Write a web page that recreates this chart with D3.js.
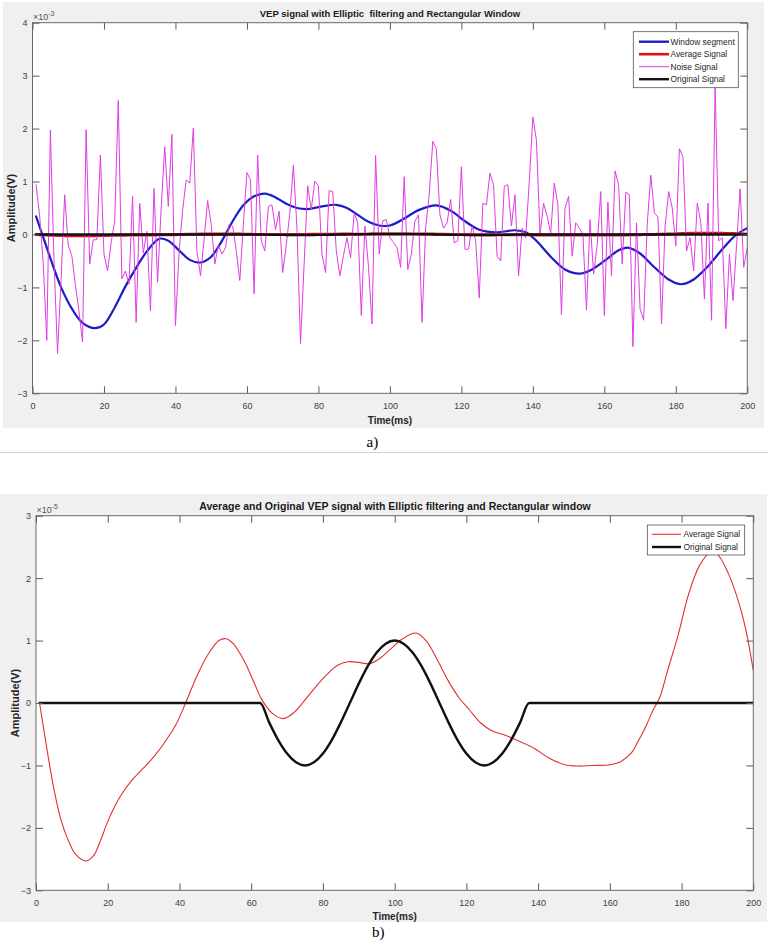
<!DOCTYPE html>
<html lang="en">
<head>
<meta charset="UTF-8">
<title>VEP signal with Elliptic filtering and Rectangular Window</title>
<script src="https://d3js.org/d3.v7.min.js"></script>
<style>
  body{margin:0;background:#fff;}
  svg{display:block;font-family:"Liberation Sans",Arial,Helvetica,sans-serif;}
  .tick text{font-size:9px;fill:#404040;}
  .tick line{stroke:#5a5a5a;}
  .plotbg{fill:#fff;}
  .frame{fill:none;stroke:#6a6a6a;stroke-width:1;}
  .title{font-weight:bold;fill:#1a1a1a;text-anchor:middle;white-space:pre;}
  .axlabel{font-weight:bold;fill:#262626;text-anchor:middle;}
  .expo{font-size:9px;fill:#555;}
  .legend rect{fill:#fff;stroke:#555;stroke-width:0.8;}
  .legend text{font-size:8.4px;fill:#262626;}
  .caption{font-family:"Liberation Serif","Times New Roman",serif;font-size:15px;fill:#000;}
  path.sig{fill:none;stroke-linejoin:round;stroke-linecap:round;}
</style>
</head>
<body>
<script>
// ---- data ----
var xTicks = [0, 20, 40, 60, 80, 100, 120, 140, 160, 180, 200];
var yTicksA = [-3, -2, -1, 0, 1, 2, 3, 4];      // x 1e-3
var yTicksB = [-3, -2, -1, 0, 1, 2, 3];         // x 1e-5

// noise signal, one sample per ms (1..200), units 1e-3 V
var noiseSignal = [
   0.94, 0.35,-0.55,-2.00, 1.97,-0.45,-2.25,-0.85, 0.75,-0.20,
  -0.40,-0.95,-1.45,-2.03, 1.98,-0.56,-0.10,-0.10, 1.50,-0.37,
  -0.69,-0.15, 0.25, 2.53,-0.84,-0.69,-0.94, 0.72,-1.66, 0.59,
  -0.35, 0.06,-1.44, 0.87,-0.90, 0.50, 1.66, 0.53, 1.89,-1.72,
  -0.35, 0.45, 1.03, 0.97, 2.01,-0.30,-0.78,-0.10, 0.64, 0.19,
  -0.56,-0.20,-0.37,-0.25, 0.19, 0.16,-0.30,-0.87, 0.20, 1.17,
   1.03,-1.12, 1.50,-0.12,-0.31, 0.53, 0.56, 0.09, 0.44,-0.72,
  -0.20, 0.40, 1.31, 0.12,-2.06,-0.56, 0.92, 0.47, 1.01, 0.92,
  -0.37,-0.72, 0.83, 0.81,-0.31,-0.78,-0.40,-0.06,-0.44, 0.41,
   0.22,-1.53, 0.16,-0.60,-1.69, 1.49,-0.37, 0.26, 0.28,-0.06,
  -0.15,-0.25,-0.62, 1.09,-0.66,-0.37, 0.25, 0.37,-1.66, 0.12,
   0.75, 1.76, 1.62, 0.37, 0.12, 0.22, 0.66,-0.16,-0.12, 1.28,
  -0.28,-0.28, 0.16,-0.12,-1.20, 0.59, 0.56, 1.16, 0.94,-0.41,
  -0.50, 0.91, 0.94, 0.16, 0.75,-0.78, 0.12,-0.06, 1.00, 2.22,
   1.78, 0.00, 0.59, 0.34, 0.03, 0.97, 0.56,-1.51, 0.50, 0.72,
  -0.41, 0.22, 0.12, 0.00,-1.43, 0.28,-0.75,-0.19, 0.81,-1.53,
   0.61,-0.78, 1.20, 0.94,-0.56, 0.80, 0.75,-2.12, 0.22,-1.41,
  -1.62, 0.19, 1.12, 0.41, 0.33,-1.69, 0.16, 0.81, 0.50,-0.22,
   1.62, 1.47,-0.31,-0.06,-0.69, 0.59, 0.22,-1.22, 0.59,-1.62,
   2.80,-0.12,-0.06,-1.78,-0.37,-1.25,-0.20, 0.86,-0.62,-0.25
];
var noiseTime = noiseSignal.map(function(v, i){ return i + 1; });

// window segment (blue), units 1e-3 V
var windowTime = [1,3,5,8,11,14,17.5,20,23,26, 29,32,35.5,38,41,44,47,50,53,56,
  59,62,65,68,71,74,77,81,85,88, 91,94,97,100,104,108,113,117,121,125,
  130,135,138,141,145,149,153,156,160,164, 166.5,170,174,178,181.5,185,189,193,197,200];
var windowSegment = [0.34,-0.05,-0.45,-1.0,-1.4,-1.67,-1.77,-1.70,-1.38,-0.98,
  -0.63,-0.32,-0.08,-0.12,-0.3,-0.48,-0.53,-0.42,-0.12,0.25,
  0.55,0.72,0.77,0.7,0.58,0.5,0.48,0.53,0.56,0.5,
  0.37,0.24,0.17,0.17,0.3,0.46,0.55,0.45,0.25,0.09,
  0.04,0.08,0.04,-0.12,-0.42,-0.66,-0.74,-0.68,-0.5,-0.3,
  -0.25,-0.36,-0.62,-0.85,-0.94,-0.85,-0.6,-0.28,0.0,0.12];

// average signal (red), units 1e-5 V
var avgTime = [1,3,5,7,9,11,14,16,18,20, 22,24,27,30,33,36,39,42,45,48,
  51,53,55,58,61,63,66,69,72,75, 78,81,84,87,90,93,96,99,102,106,
  109,112,115,118,121,124,127,131,135,139, 143,147,151,155,160,163,166,168,170,172,
  174,176,179,182,185,188,190,193,196,198,200];
var averageSignal = [0,-0.72,-1.38,-1.88,-2.2,-2.42,-2.53,-2.45,-2.2,-1.9,
  -1.65,-1.45,-1.22,-1.04,-0.85,-0.62,-0.35,0.04,0.45,0.78,
  1.0,1.03,0.95,0.68,0.3,0.05,-0.17,-0.25,-0.15,0.05,
  0.26,0.45,0.6,0.66,0.65,0.63,0.72,0.87,1.02,1.12,
  0.98,0.68,0.35,0.08,-0.12,-0.32,-0.44,-0.52,-0.62,-0.73,
  -0.88,-0.98,-1.01,-1.0,-0.99,-0.94,-0.8,-0.6,-0.38,-0.12,
  0.1,0.5,1.08,1.75,2.2,2.41,2.38,2.08,1.6,1.15,0.52];

// original signal (black), units 1e-5 V
var origTime = [1,57.5,60,62.5,65,67.5,70,72.5,75,77.5,80,82.5,85,87.5,90,92.5,95,97.5,100,
  102.5,105,107.5,110,112.5,115,117.5,120,122.5,125,127.5,130,132.5,135,137.5,140,200];
var originalSignal = [0,0,0,0,-0.31,-0.59,-0.81,-0.95,-1,-0.95,-0.81,-0.59,-0.31,0,0.31,0.59,0.81,0.95,1,
  0.95,0.81,0.59,0.31,0,-0.31,-0.59,-0.81,-0.95,-1,-0.95,-0.81,-0.59,-0.31,0,0,0];

// ---- drawing ----
var svg = d3.select("body").append("svg").attr("width", 768).attr("height", 943);

function drawPanel(p) {
  var g = svg.append("g");
  g.append("rect").attr("x", p.bg[0]).attr("y", p.bg[1]).attr("width", p.bg[2]).attr("height", p.bg[3])
    .attr("fill", "#f0f0f0");

  var x = d3.scaleLinear().domain([0, 200]).range([p.left, p.right]);
  var y = d3.scaleLinear().domain([p.yTicks[0], p.yTicks[p.yTicks.length - 1]]).range([p.bottom, p.top]);

  g.append("rect").attr("class", "plotbg").attr("x", p.left).attr("y", p.top)
    .attr("width", p.right - p.left).attr("height", p.bottom - p.top);

  var clipId = "clip" + p.id;
  g.append("clipPath").attr("id", clipId).append("rect")
    .attr("x", p.left).attr("y", p.top).attr("width", p.right - p.left).attr("height", p.bottom - p.top);

  var lines = g.append("g").attr("clip-path", "url(#" + clipId + ")");
  p.series.forEach(function(s) {
    var pts = s.t.map(function(t, i){ return [t, s.v[i] * s.k]; });
    var line = d3.line().x(function(d){ return x(d[0]); }).y(function(d){ return y(d[1]); }).curve(s.curve);
    lines.append("path").attr("class", "sig").datum(pts).attr("d", line)
      .attr("stroke", s.color).attr("stroke-width", s.w);
  });

  // axes: ticks inward on all four sides
  var fmt = d3.format("d");
  var bottom = g.append("g").attr("transform", "translate(0," + p.bottom + ")")
    .call(d3.axisBottom(x).tickValues(xTicks).tickFormat(fmt).tickSizeInner(-7).tickSizeOuter(0).tickPadding(9));
  var top = g.append("g").attr("transform", "translate(0," + p.top + ")")
    .call(d3.axisTop(x).tickValues(xTicks).tickSizeInner(-7).tickSizeOuter(0).tickFormat(""));
  var left = g.append("g").attr("transform", "translate(" + p.left + ",0)")
    .call(d3.axisLeft(y).tickValues(p.yTicks).tickFormat(fmt).tickSizeInner(-7).tickSizeOuter(0).tickPadding(5));
  var right = g.append("g").attr("transform", "translate(" + p.right + ",0)")
    .call(d3.axisRight(y).tickValues(p.yTicks).tickSizeInner(-7).tickSizeOuter(0).tickFormat(""));
  [bottom, top, left, right].forEach(function(a){
    a.select(".domain").remove();
    a.attr("font-family", null).attr("font-size", null);
  });

  g.append("rect").attr("class", "frame").attr("x", p.left).attr("y", p.top)
    .attr("width", p.right - p.left).attr("height", p.bottom - p.top);

  // exponent label
  var ex = g.append("text").attr("class", "expo").attr("x", p.left + 0.5).attr("y", p.top - 3);
  ex.append("tspan").text("\u00d710");
  ex.append("tspan").attr("dy", -4).attr("font-size", "7px").text(p.expo);

  g.append("text").attr("class", "title").attr("x", p.titleX).attr("y", p.titleY)
    .attr("font-size", p.titleSize).text(p.title);
  g.append("text").attr("class", "axlabel").attr("font-size", "10px")
    .attr("x", (p.left + p.right) / 2).attr("y", p.xLabelY).text("Time(ms)");
  g.append("text").attr("class", "axlabel").attr("font-size", "11px")
    .attr("transform", "translate(" + p.yLabelX + "," + (p.top + p.bottom) / 2 + ") rotate(-90)")
    .text("Amplitude(V)");

  // legend
  var L = p.legend;
  var lg = g.append("g").attr("class", "legend");
  lg.append("rect").attr("x", L.x).attr("y", L.y).attr("width", L.w).attr("height", L.h);
  var items = lg.selectAll("g.item").data(L.items).enter().append("g").attr("class", "item")
    .attr("transform", function(d, i){ return "translate(0," + (L.y0 + i * L.step) + ")"; });
  items.append("line").attr("x1", L.x1).attr("x2", L.x2).attr("y1", 0).attr("y2", 0)
    .attr("stroke", function(d){ return d.color; }).attr("stroke-width", function(d){ return d.w; });
  items.append("text").attr("x", L.tx).attr("y", 3).text(function(d){ return d.name; });

  g.append("text").attr("class", "caption").attr("x", p.caption[0]).attr("y", p.caption[1]).text(p.caption[2]);
}

var blue = "#1c1cc8", magenta = "#e03ce4", red = "#e01010", black = "#111";

drawPanel({
  id: "a", bg: [3, 2, 761, 426],
  left: 32.5, right: 747.3, top: 22.7, bottom: 393.3, yTicks: yTicksA, expo: "-3",
  title: "VEP signal with Elliptic  filtering and Rectangular Window", titleX: 390, titleY: 17, titleSize: "9.5px",
  xLabelY: 424, yLabelX: 15,
  series: [
    {t: windowTime, v: windowSegment, k: 1, color: blue, w: 2.2, curve: d3.curveCatmullRom},
    {t: avgTime, v: averageSignal, k: 0.01, color: red, w: 3, curve: d3.curveCatmullRom},
    {t: noiseTime, v: noiseSignal, k: 1, color: magenta, w: 1, curve: d3.curveLinear},
    {t: origTime, v: originalSignal, k: 0.01, color: black, w: 2.4, curve: d3.curveMonotoneX}
  ],
  legend: {x: 633.3, y: 31.7, w: 105, h: 56, y0: 41.7, step: 12.5, x1: 639, x2: 669, tx: 670.5,
    items: [
      {name: "Window segment", color: blue, w: 2.4},
      {name: "Average Signal", color: red, w: 2.6},
      {name: "Noise Signal", color: magenta, w: 1},
      {name: "Original Signal", color: black, w: 2.4}
    ]},
  caption: [366.5, 447, "a)"]
});

svg.append("line").attr("x1", 0).attr("x2", 768).attr("y1", 452.5).attr("y2", 452.5)
  .attr("stroke", "#d4d4d4").attr("stroke-width", 1);

drawPanel({
  id: "b", bg: [0, 494, 767, 428],
  left: 36, right: 753.3, top: 515.7, bottom: 890.3, yTicks: yTicksB, expo: "-5",
  title: "Average and Original VEP signal with Elliptic filtering and Rectangular window", titleX: 395, titleY: 509.5, titleSize: "10.5px",
  xLabelY: 920, yLabelX: 18.5,
  series: [
    {t: avgTime, v: averageSignal, k: 1, color: "#e03030", w: 1.1, curve: d3.curveCatmullRom},
    {t: origTime, v: originalSignal, k: 1, color: black, w: 2.4, curve: d3.curveMonotoneX}
  ],
  legend: {x: 647.3, y: 525, w: 97.4, h: 30, y0: 534.3, step: 12.7, x1: 652, x2: 681, tx: 683.5,
    items: [
      {name: "Average Signal", color: "#e03030", w: 1.1},
      {name: "Original Signal", color: black, w: 2.4}
    ]},
  caption: [372, 937, "b)"]
});
</script>
</body>
</html>
